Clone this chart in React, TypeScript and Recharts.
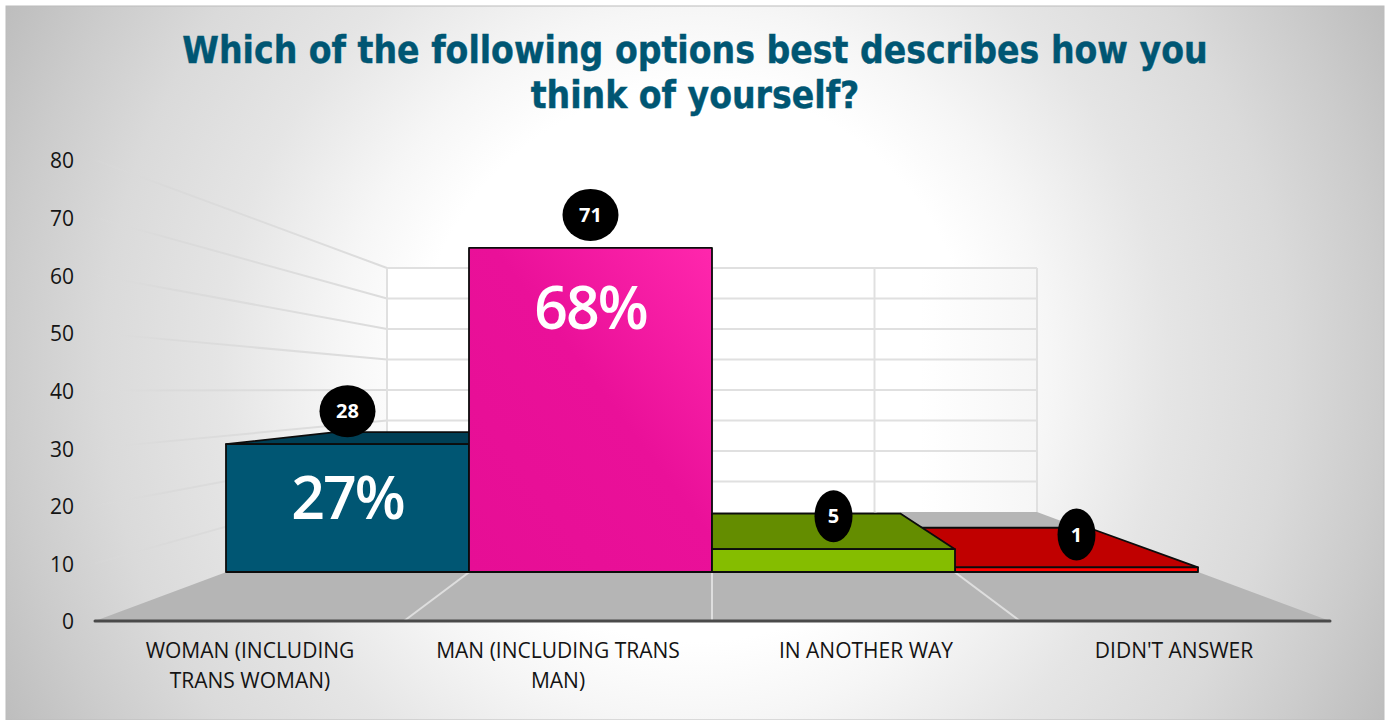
import React from 'react';
import { BarChart, Bar, XAxis, YAxis, LabelList } from 'recharts';

// values
const categoryLines = [
  ['WOMAN (INCLUDING', 'TRANS WOMAN)'],
  ['MAN (INCLUDING TRANS', 'MAN)'],
  ['IN ANOTHER WAY'],
  ["DIDN'T ANSWER"],
];
const counts = [28, 71, 5, 1];
const shares = [27, 68, null, null];
const yTicks = [0, 10, 20, 30, 40, 50, 60, 70, 80];
const titleLines = ['Which of the following options best describes how you', 'think of yourself?'];

const frontColors = ['#005673', 'url(#manFill)', '#85bd00', '#ff0000'];
const topColors = ['#003f55', '#c4097f', '#648d00', '#c00000'];
const shareDrop = [53.5, 59.5, 0, 0];

const W = 1388;
const H = 720;
const FONT = '"Open Sans", "Noto Sans", sans-serif';

// plot box of the 3d room
const PLOT = { left: 96, right: 1328, top: 160, bottom: 621 };
const BACK = { left: 387, right: 1037, top: 268, bottom: 512 };
const VP = { x: 712, y: 391 }; // where the floor edges meet
const BAR_DEPTH = 0.775;

// The bars stand further back than the axis so they have their own scale
// (base at y=572, 4.565px per respondent) on the same plot box.
const BAR_UNIT = 4.565;
const BAR_BASE = 572;
const barDomain = [
  -(PLOT.bottom - BAR_BASE) / BAR_UNIT,
  (BAR_BASE - PLOT.top) / BAR_UNIT,
];

// the last bar sits behind its neighbour, so it gets its own series drawn first
const behind = counts.map((_, i) => i === counts.length - 1);
const table = counts.map((c, i) => ({
  category: categoryLines[i].join(' '),
  frontCount: behind[i] ? null : c,
  backCount: behind[i] ? c : null,
  count: c,
  share: shares[i],
}));

const axisY = (v: number) => PLOT.bottom - (v / 80) * (PLOT.bottom - PLOT.top);
const wallY = (v: number) => BACK.bottom - (v / 80) * (BACK.bottom - BACK.top);
const project = (x: number, y: number, d: number) =>
  `${VP.x + (x - VP.x) * d},${VP.y + (y - VP.y) * d}`;

function Backdrop() {
  const wallCols = [0, 1, 2, 3, 4];
  const colW = (BACK.right - BACK.left) / 4;
  const frontW = (PLOT.right - PLOT.left) / 4;
  return (
    <svg width={W} height={H} style={{ position: 'absolute', left: 0, top: 0 }}>
      <defs>
        <radialGradient id="panelFill" gradientUnits="userSpaceOnUse" cx={695} cy={365} r={790}>
          <stop offset="0.35" stopColor="#ffffff" />
          <stop offset="0.45" stopColor="#f6f6f6" />
          <stop offset="0.6" stopColor="#e5e5e5" />
          <stop offset="0.75" stopColor="#dadada" />
          <stop offset="0.87" stopColor="#cccccc" />
          <stop offset="1" stopColor="#bbbbbb" />
        </radialGradient>
        <linearGradient id="sideLine" gradientUnits="userSpaceOnUse" x1={95} y1={0} x2={387} y2={0}>
          <stop offset="0" stopColor="#dcdcdc" stopOpacity={0.1} />
          <stop offset="0.25" stopColor="#d8d8d8" stopOpacity={0.7} />
          <stop offset="1" stopColor="#dcdcdc" />
        </linearGradient>
        <linearGradient id="wallFill" x1="0" y1="0" x2="1" y2="0">
          <stop offset="0" stopColor="#ffffff" />
          <stop offset="0.82" stopColor="#ffffff" />
          <stop offset="1" stopColor="#f6f6f6" />
        </linearGradient>
        <linearGradient id="manFill" x1="0" y1="1" x2="1" y2="0">
          <stop offset="0" stopColor="#e60e95" />
          <stop offset="0.55" stopColor="#ea1099" />
          <stop offset="1" stopColor="#ff27ad" />
        </linearGradient>
      </defs>
      <rect x={6} y={6} width={1378} height={714} fill="url(#panelFill)" stroke="#bcbcbc" strokeWidth={1} />

      <text
        x={695}
        fontFamily='"DejaVu Sans Condensed", "DejaVu Sans", Verdana, sans-serif'
        fontStretch="condensed"
        fontWeight="bold"
        fontSize={36.9}
        fill="#005673"
        stroke="#005673"
        strokeWidth={0.4}
        textAnchor="middle"
      >
        {titleLines.map((t, i) => (
          <tspan key={t} x={695} y={63 + i * 45}>{t}</tspan>
        ))}
      </text>

      <rect x={BACK.left} y={BACK.top} width={BACK.right - BACK.left} height={BACK.bottom - BACK.top} fill="url(#wallFill)" />
      {yTicks.filter(v => v > 0).map(v => (
        <g key={v}>
          <line x1={BACK.left} x2={BACK.right} y1={wallY(v)} y2={wallY(v)} stroke="#e0e0e0" strokeWidth={2} />
          <line x1={95} y1={axisY(v)} x2={BACK.left} y2={wallY(v)} stroke="url(#sideLine)" strokeWidth={2} />
        </g>
      ))}
      {wallCols.map(i => (
        <line key={i} x1={BACK.left + i * colW} x2={BACK.left + i * colW} y1={BACK.top} y2={BACK.bottom} stroke="#e0e0e0" strokeWidth={2} />
      ))}

      <polygon points={`95,621 1330,621 ${BACK.right},${BACK.bottom} ${BACK.left},${BACK.bottom}`} fill="#b5b5b5" />
      {[1, 2, 3].map(i => (
        <line key={i} x1={PLOT.left + i * frontW} y1={PLOT.bottom} x2={BACK.left + i * colW} y2={BACK.bottom} stroke="#dedede" strokeWidth={2} />
      ))}
      <line x1={95} x2={1330} y1={621} y2={621} stroke="#4a4a4a" strokeWidth={3} strokeLinecap="round" />
    </svg>
  );
}

function Bar3D(props: any) {
  const { x, y, width, height, index, value } = props;
  if (value == null || !height) return null;
  const right = x + width;
  return (
    <g stroke="#0c0c0c" strokeWidth={1.8} strokeLinejoin="round">
      {y > VP.y && (
        <polygon
          points={`${x},${y} ${right},${y} ${project(right, y, BAR_DEPTH)} ${project(x, y, BAR_DEPTH)}`}
          fill={topColors[index]}
        />
      )}
      <rect x={x} y={y} width={width} height={height} fill={frontColors[index]} />
    </g>
  );
}

function CountBadge(props: any) {
  const { x, y, width, value } = props;
  if (value == null) return null;
  const cx = x + width / 2;
  const cy = y - 33;
  return (
    <g>
      <ellipse cx={cx} cy={cy} rx={String(value).length > 1 ? 28 : 19} ry={26} fill="#000" />
      <text x={cx} y={cy} dy="0.36em" textAnchor="middle" fontFamily={FONT} fontWeight="bold" fontSize={20} fill="#fff">
        {value}
      </text>
    </g>
  );
}

function ShareLabel(props: any) {
  const { x, y, width, value, index } = props;
  if (value == null) return null;
  return (
    <text x={x + width / 2} y={y + shareDrop[index]} dy="0.36em" textAnchor="middle" fontFamily={FONT} fontWeight={600} fontSize={59} letterSpacing={-2} fill="#fff">
      {value}%
    </text>
  );
}

function CategoryTick(props: any) {
  const { x, y, index } = props;
  return (
    <text x={x} y={y} textAnchor="middle" fontFamily={FONT} fontSize={21} fill="#141414">
      {categoryLines[index].map((line, i) => (
        <tspan key={line} x={x} y={y + 29 + i * 30}>{line}</tspan>
      ))}
    </text>
  );
}

export default function App() {
  return (
    <div style={{ position: 'absolute', left: 0, top: 0, width: W, height: H, background: '#fff' }}>
      <Backdrop />
      <div style={{ position: 'absolute', left: 0, top: 0 }}>
        <BarChart
          width={W}
          height={H}
          data={table}
          barCategoryGap={0}
          margin={{ top: PLOT.top, right: W - PLOT.right, bottom: H - PLOT.bottom - 40, left: PLOT.left - 60 }}
        >
          <XAxis
            xAxisId="labels"
            dataKey="category"
            height={40}
            axisLine={false}
            tickLine={false}
            interval={0}
            tick={<CategoryTick />}
          />
          <XAxis xAxisId="bars" dataKey="category" hide height={0} padding={{ left: 130, right: 130 }} />
          <YAxis
            yAxisId="labels"
            width={60}
            domain={[0, 80]}
            ticks={yTicks}
            axisLine={false}
            tickLine={false}
            tickMargin={16}
            tick={{ fontFamily: FONT, fontSize: 21, fill: '#141414', dy: 1 }}
          />
          <YAxis yAxisId="bars" hide width={0} domain={barDomain} />
          {/* keeps the visible axes alive, draws nothing */}
          <Bar xAxisId="labels" yAxisId="labels" dataKey="count" shape={() => null} isAnimationActive={false} />
          <Bar xAxisId="bars" yAxisId="bars" stackId="all" dataKey="backCount" shape={<Bar3D />} isAnimationActive={false}>
            <LabelList dataKey="backCount" content={<CountBadge />} />
          </Bar>
          <Bar xAxisId="bars" yAxisId="bars" stackId="all" dataKey="frontCount" shape={<Bar3D />} isAnimationActive={false}>
            <LabelList dataKey="frontCount" content={<CountBadge />} />
            <LabelList dataKey="share" content={<ShareLabel />} />
          </Bar>
        </BarChart>
      </div>
    </div>
  );
}
